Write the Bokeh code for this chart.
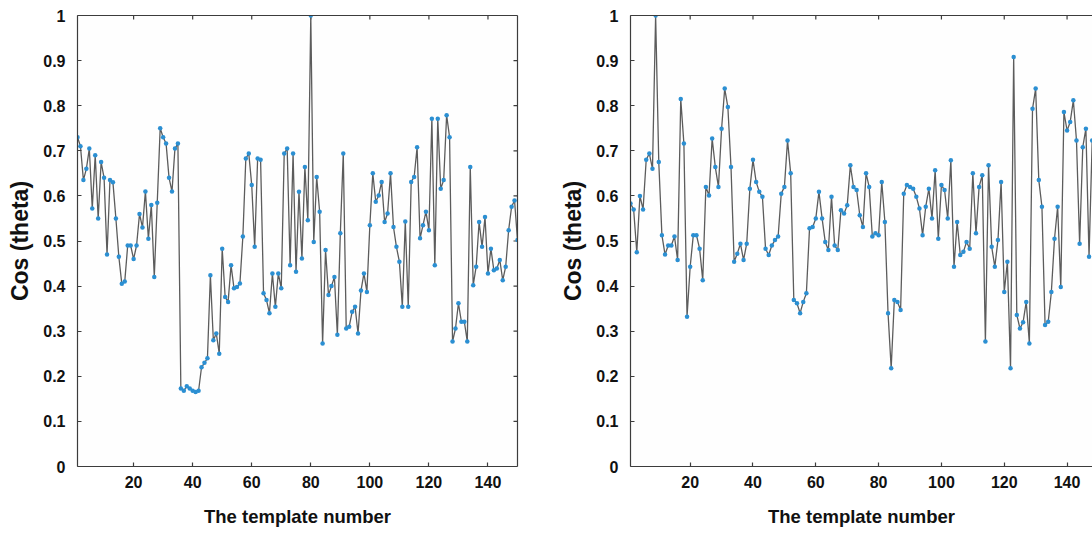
from bokeh.plotting import figure
from bokeh.models import LinearAxis, FixedTicker, NumeralTickFormatter, Range1d
from bokeh.layouts import row
from bokeh.embed import file_html
from bokeh.resources import INLINE

# ---------------- data ----------------
template_left = list(range(1, 151))
cos_left = [
    0.73, 0.71, 0.635, 0.66, 0.705, 0.572, 0.69, 0.55, 0.675, 0.64,
    0.47, 0.635, 0.63, 0.55, 0.465, 0.405, 0.41, 0.49, 0.49, 0.46,
    0.49, 0.56, 0.53, 0.61, 0.505, 0.58, 0.42, 0.585, 0.75, 0.73,
    0.716, 0.64, 0.61, 0.705, 0.716, 0.173, 0.168, 0.178, 0.173, 0.168,
    0.165, 0.168, 0.22, 0.23, 0.24, 0.424, 0.28, 0.295, 0.25, 0.483,
    0.376, 0.365, 0.446, 0.395, 0.398, 0.406, 0.51, 0.683, 0.694, 0.624,
    0.487, 0.683, 0.68, 0.384, 0.369, 0.34, 0.428, 0.354, 0.428, 0.395,
    0.694, 0.705, 0.446, 0.694, 0.432, 0.609, 0.461, 0.664, 0.546, 1.0,
    0.498, 0.642, 0.565, 0.273, 0.48, 0.38, 0.40, 0.42, 0.292, 0.517,
    0.694, 0.306, 0.31, 0.343, 0.354, 0.295, 0.39, 0.428, 0.387, 0.535,
    0.65, 0.587, 0.601, 0.631, 0.542, 0.561, 0.65, 0.531, 0.487, 0.454,
    0.354, 0.543, 0.354, 0.631, 0.642, 0.708, 0.506, 0.535, 0.565, 0.524,
    0.771, 0.446, 0.771, 0.616, 0.635, 0.779, 0.73, 0.277, 0.306, 0.362,
    0.321, 0.321, 0.277, 0.664, 0.402, 0.443, 0.542, 0.487, 0.553, 0.428,
    0.483, 0.435, 0.439, 0.458, 0.413, 0.443, 0.524, 0.576, 0.59, 0.502,
]

template_right = list(range(1, 149))
cos_right = [
    0.583, 0.57, 0.475, 0.60, 0.57, 0.68, 0.694, 0.66, 1.0, 0.675,
    0.513, 0.47, 0.49, 0.49, 0.51, 0.458, 0.815, 0.716, 0.332, 0.443,
    0.513, 0.513, 0.483, 0.413, 0.62, 0.601, 0.727, 0.664, 0.62, 0.749,
    0.838, 0.797, 0.664, 0.454, 0.472, 0.494, 0.458, 0.494, 0.616, 0.68,
    0.631, 0.609, 0.598, 0.483, 0.469, 0.49, 0.502, 0.51, 0.605, 0.62,
    0.723, 0.65, 0.369, 0.362, 0.34, 0.365, 0.384, 0.528, 0.531, 0.55,
    0.609, 0.55, 0.498, 0.48, 0.598, 0.49, 0.48, 0.568, 0.561, 0.579,
    0.668, 0.62, 0.613, 0.557, 0.531, 0.65, 0.62, 0.51, 0.517, 0.513,
    0.631, 0.542, 0.34, 0.218, 0.369, 0.365, 0.347, 0.605, 0.624, 0.62,
    0.616, 0.598, 0.572, 0.513, 0.576, 0.616, 0.55, 0.657, 0.505, 0.624,
    0.613, 0.55, 0.679, 0.443, 0.542, 0.469, 0.476, 0.498, 0.483, 0.65,
    0.517, 0.62, 0.646, 0.277, 0.668, 0.487, 0.443, 0.502, 0.631, 0.387,
    0.454, 0.218, 0.908, 0.336, 0.306, 0.32, 0.365, 0.273, 0.793, 0.838,
    0.635, 0.576, 0.314, 0.321, 0.387, 0.505, 0.576, 0.398, 0.786, 0.745,
    0.764, 0.812, 0.723, 0.494, 0.708, 0.749, 0.465, 0.723,
]

y_ticks = [0, 0.1, 0.2, 0.3, 0.4, 0.5, 0.6, 0.7, 0.8, 0.9, 1]
x_ticks = [20, 40, 60, 80, 100, 120, 140]
y_label = "Cos (theta)"
x_label = "The template number"

# ---------------- style ----------------
FRAME = "#3c3c3c"
LINE = "#5c5c5c"
DOT = "#2b8fd2"
FONT = "Liberation Sans"
FIG_H = 538
TOP, BOTTOM = 15, 72
TICK_PX = 4


def style_axis(ax, ticks):
    ax.ticker = FixedTicker(ticks=ticks)
    ax.major_tick_in = TICK_PX
    ax.major_tick_out = 0
    ax.minor_tick_in = 0
    ax.minor_tick_out = 0
    ax.axis_line_color = FRAME
    ax.axis_line_width = 1.2
    ax.major_tick_line_color = FRAME
    ax.major_tick_line_width = 1.2
    ax.major_label_text_font = FONT
    ax.major_label_text_font_size = "16px"
    ax.major_label_text_font_style = "bold"
    ax.major_label_text_color = "#111111"


def frame_axis():
    # bare axis used only as a frame edge (no ticks, no labels)
    ax = LinearAxis(ticker=FixedTicker(ticks=[]))
    ax.axis_line_color = FRAME
    ax.axis_line_width = 1.2
    ax.major_label_standoff = 0
    ax.major_tick_in = 0
    ax.major_tick_out = 0
    ax.minor_tick_in = 0
    ax.minor_tick_out = 0
    return ax


def make_panel(xs, ys, x_end, width, b_left, b_right, right_edge):
    p = figure(width=width, height=FIG_H,
               x_range=Range1d(1, x_end), y_range=Range1d(0, 1),
               output_backend="svg", toolbar_location=None,
               min_border_left=b_left, min_border_right=b_right,
               min_border_top=TOP, min_border_bottom=BOTTOM)
    p.grid.visible = False
    p.outline_line_color = None
    p.background_fill_color = "#fefefe"
    p.border_fill_color = "#ffffff"

    xa = p.xaxis[0]
    style_axis(xa, x_ticks)
    xa.major_label_standoff = 9
    xa.axis_label = x_label
    xa.axis_label_standoff = 15
    xa.axis_label_text_font = FONT
    xa.axis_label_text_font_size = "18.5px"
    xa.axis_label_text_font_style = "bold"
    xa.axis_label_text_color = "#111111"

    ya = p.yaxis[0]
    style_axis(ya, y_ticks)
    ya.formatter = NumeralTickFormatter(format="0.[0]")
    ya.major_label_standoff = 12
    ya.axis_label = y_label
    ya.axis_label_standoff = 7
    ya.axis_label_text_font = FONT
    ya.axis_label_text_font_size = "23px"
    ya.axis_label_text_font_style = "bold"
    ya.axis_label_text_color = "#111111"

    p.add_layout(frame_axis(), "above")
    if right_edge:
        p.add_layout(frame_axis(), "right")

    # inward ticks on the top (and right) edges, MATLAB style
    frame_w = width - b_left - b_right
    frame_h = FIG_H - TOP - BOTTOM
    dy = TICK_PX / frame_h * 1.0
    dx = TICK_PX / frame_w * (x_end - 1)
    p.segment(x0=x_ticks, y0=[1] * len(x_ticks), x1=x_ticks,
              y1=[1 - dy] * len(x_ticks), line_color=FRAME, line_width=1.2)
    if right_edge:
        p.segment(x0=[x_end] * len(y_ticks), y0=y_ticks,
                  x1=[x_end - dx] * len(y_ticks), y1=y_ticks,
                  line_color=FRAME, line_width=1.2)

    p.line(xs, ys, line_color=LINE, line_width=1.3)
    p.scatter(xs, ys, size=4.5, fill_color=DOT, line_color=None)
    return p


p1 = make_panel(template_left, cos_left, 150, 538, 77, 21, True)
p2 = make_panel(template_right, cos_right, 148.1, 554, 92, 0, False)

layout = row(p1, p2, spacing=0)
open("out.html", "w").write(file_html(layout, INLINE))
